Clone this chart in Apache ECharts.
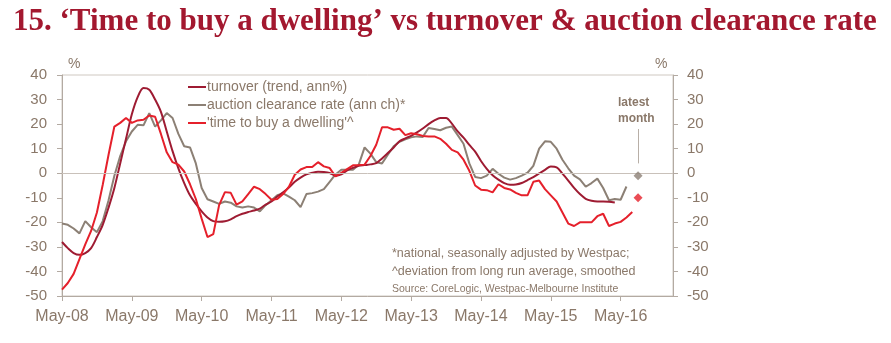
<!DOCTYPE html>
<html>
<head>
<meta charset="utf-8">
<script src="https://cdn.jsdelivr.net/npm/echarts@6/dist/echarts.min.js"></script>
<style>
  html, body { margin: 0; padding: 0; background: #ffffff; }
  #chart { width: 891px; height: 343px; }
</style>
</head>
<body>
<div id="chart"></div>
<script>
// ---- Data ----
const titleText = "15. \u2018Time to buy a dwelling\u2019 vs turnover & auction clearance rate";
const monthNames = ["Jan","Feb","Mar","Apr","May","Jun","Jul","Aug","Sep","Oct","Nov","Dec"];
// categories: monthly from May-08 through Feb-17
const categories = [];
for (let i = 0; i < 106; i++) {
  const m = (4 + i) % 12;
  const y = 8 + Math.floor((4 + i) / 12);
  categories.push(monthNames[m] + "-" + String(y).padStart(2, "0"));
}
const yTicks = [-50, -40, -30, -20, -10, 0, 10, 20, 30, 40];

const turnover = [
  -28, -30.5, -32.5, -33.2, -32.5, -30.5, -26, -21, -14, -6,
  4, 14, 24, 31, 34.7, 34, 30, 25, 17, 9,
  2, -4, -9, -12.5, -15.5, -18, -19.5, -19.8, -19.6, -18.8,
  -17.5, -16.5, -15.8, -15.2, -14.4, -12.8, -11.5, -9.5, -7.8, -5.8,
  -3.5, -1.8, -0.5, 0.2, 0.6, 0.5, 0.1, -1, -0.5, 1.2,
  2.2, 3, 3.3, 3.6, 4.1, 6, 8.2, 10.5, 13, 14.2,
  15.2, 16.6, 18.2, 20, 21.5, 22.5, 22.5, 20.2, 17, 14.5,
  11.5, 8.8, 5, 1.8, -0.8, -2.6, -4, -4.7, -4.6, -4,
  -2.8, -1.6, -0.1, 1.4, 2.7, 2.4, -0.2, -3, -6, -8.5,
  -10.4, -11.2, -11.5, -11.5, -11.6, -11.9
];

const auction = [
  -20.5, -21, -22.5, -24.5, -19.5, -22, -24, -19.5, -11, -1,
  7, 13, 17, 19.7, 19.5, 24.5, 19, 21.5, 24.5, 22.5,
  16, 11, 10.5, 4, -6, -10.6, -11.5, -12.5, -11.5, -12,
  -13.5, -14, -13.5, -14, -15.5, -13, -11, -9, -8.2, -9.5,
  -11, -13.8, -8.5, -8.1, -7.5, -6.5, -3.5, -0.5, 1.4, 1.4,
  1.4, 3.5, 10.5, 8, 4.5, 4, 7.5, 11, 12.8, 13.8,
  14.6, 15, 14.8, 18.4, 18, 17.5, 18.5, 19, 15.5, 12,
  4, -1.5, -2, -1, 1.8, -0.2, -1.8, -2.6, -2, -1,
  0.2, 3, 10, 13, 12.8, 10, 5.5, 2, -1, -2.5,
  -5.5, -4, -2.2, -6, -11, -10.5, -10.8, -5.4
];

const timeToBuy = [
  -47.4, -44.7, -41, -35, -29, -23.5, -16, -4.7, 7.5, 19,
  20.5, 22.5, 20.5, 21.5, 21.8, 23.5, 23, 16, 8.5, 4.5,
  3.5, 0.7, -4.5, -10.5, -18.5, -26, -24.8, -13, -7.7, -8,
  -12.8, -11.5, -8.5, -5.5, -6.5, -8.5, -10.8, -10.5, -8.5, -5.5,
  -0.6, 1.5, 2.5, 2.5, 4.5, 2.8, 2.1, -1.3, 0.2, 1.7,
  3.2, 3.3, 3.5, 7, 11.6, 18.7, 18.7, 17.7, 18.1, 15.5,
  16.3, 15.9, 15.2, 15, 15, 14, 12, 9.5, 8.5, 5.5,
  1, -5, -6.7, -6.9, -7.8, -4.5, -6, -6.6, -8, -9,
  -9, -3.5, -3, -6.5, -9, -11.5, -16, -20.5, -21.5, -20,
  -20, -20, -17.5, -16.5, -21.5, -20.5, -19.8, -18, -15.8
];

// latest month markers (Aug-16)
const latestIndex = 99;
const latestAuction = -1;
const latestTimeToBuy = -10;

// ---- Styling ----
const cTurn = "#9e1b32";
const cAuct = "#8c8075";
const cTime = "#e5202b";
const cAxisText = "#8a7869";
const cAxisLine = "#b3aaa2";

const chart = echarts.init(document.getElementById("chart"), null, { renderer: "canvas" });

const axisLabelStyle = { color: cAxisText, fontFamily: "Liberation Sans", fontSize: 15 };

chart.setOption({
  animation: false,
  backgroundColor: "#ffffff",
  grid: { left: 62, right: 218, top: 75, bottom: 47, show: true, borderColor: "#cfc8c1", borderWidth: 1 },
  legend: {
    orient: "vertical",
    left: 183,
    top: 75,
    itemWidth: 18,
    itemHeight: 2,
    itemGap: 4,
    icon: "rect",
    textStyle: { color: cAxisText, fontFamily: "Liberation Sans", fontSize: 14, padding: [0, 0, 0, -4] },
    data: ["turnover (trend, ann%)", "auction clearance rate (ann ch)*", "'time to buy a dwelling'^"]
  },
  xAxis: {
    type: "category",
    data: categories,
    boundaryGap: false,
    axisLine: { show: true, onZero: false, lineStyle: { color: cAxisLine, width: 1 } },
    axisTick: { show: true, interval: 11, length: 5, lineStyle: { color: cAxisLine } },
    axisLabel: { interval: 11, margin: 13, color: cAxisText, fontFamily: "Liberation Sans", fontSize: 16 },
    splitLine: { show: false }
  },
  yAxis: [
    {
      type: "value", min: yTicks[0], max: yTicks[yTicks.length - 1], interval: 10,
      position: "left",
      axisLine: { show: true, lineStyle: { color: cAxisLine } },
      axisTick: { show: true, length: 5, lineStyle: { color: cAxisLine } },
      axisLabel: Object.assign({ margin: 15 }, axisLabelStyle),
      splitLine: { show: false }
    },
    {
      type: "value", min: yTicks[0], max: yTicks[yTicks.length - 1], interval: 10,
      position: "right",
      axisLine: { show: true, lineStyle: { color: cAxisLine } },
      axisTick: { show: true, length: 5, lineStyle: { color: cAxisLine } },
      axisLabel: Object.assign({ margin: 14 }, axisLabelStyle),
      splitLine: { show: false }
    }
  ],
  series: [
    {
      name: "turnover (trend, ann%)", type: "line", data: turnover,
      symbol: "none", smooth: 0.3, z: 3,
      lineStyle: { color: cTurn, width: 2 }, itemStyle: { color: cTurn },
      markLine: {
        silent: true, symbol: "none", label: { show: false },
        lineStyle: { color: "#c9c1ba", width: 1, type: "solid" },
        data: [{ yAxis: 0 }]
      }
    },
    {
      name: "auction clearance rate (ann ch)*", type: "line", data: auction,
      symbol: "none", z: 2,
      lineStyle: { color: cAuct, width: 2 }, itemStyle: { color: cAuct },
      markLine: {
        silent: true, symbol: "none", label: { show: false },
        lineStyle: { color: "#b8afa7", width: 1, type: "solid" },
        data: [[{ coord: [latestIndex, 4] }, { coord: [latestIndex, 18] }]]
      }
    },
    {
      name: "'time to buy a dwelling'^", type: "line", data: timeToBuy,
      symbol: "none", z: 4,
      lineStyle: { color: cTime, width: 2 }, itemStyle: { color: cTime }
    },
    {
      type: "scatter", symbol: "diamond", symbolSize: 9, z: 5,
      itemStyle: { color: cAuct },
      data: [[latestIndex, latestAuction]]
    },
    {
      type: "scatter", symbol: "diamond", symbolSize: 9, z: 5,
      itemStyle: { color: cTime },
      data: [[latestIndex, latestTimeToBuy]]
    }
  ],
  graphic: [
    {
      type: "text", left: 13, top: 6,
      style: { text: titleText, fill: "#a3182f", font: "bold 31px 'Liberation Serif'" }
    },
    { type: "text", left: 68, top: 57, style: { text: "%", fill: cAxisText, font: "14px 'Liberation Sans'" } },
    { type: "text", left: 655, top: 57, style: { text: "%", fill: cAxisText, font: "14px 'Liberation Sans'" } },
    {
      type: "text", left: 618, top: 95,
      style: { text: "latest\nmonth", fill: cAxisText, font: "bold 12px 'Liberation Sans'", align: "center", lineHeight: 16 }
    },
    { type: "text", left: 392, top: 247, style: { text: "*national, seasonally adjusted by Westpac;", fill: cAxisText, font: "12.5px 'Liberation Sans'" } },
    { type: "text", left: 392, top: 265, style: { text: "^deviation from long run average, smoothed", fill: cAxisText, font: "12.5px 'Liberation Sans'" } },
    { type: "text", left: 392, top: 284, style: { text: "Source: CoreLogic, Westpac-Melbourne Institute", fill: cAxisText, font: "10.5px 'Liberation Sans'" } }
  ]
});
</script>
</body>
</html>
